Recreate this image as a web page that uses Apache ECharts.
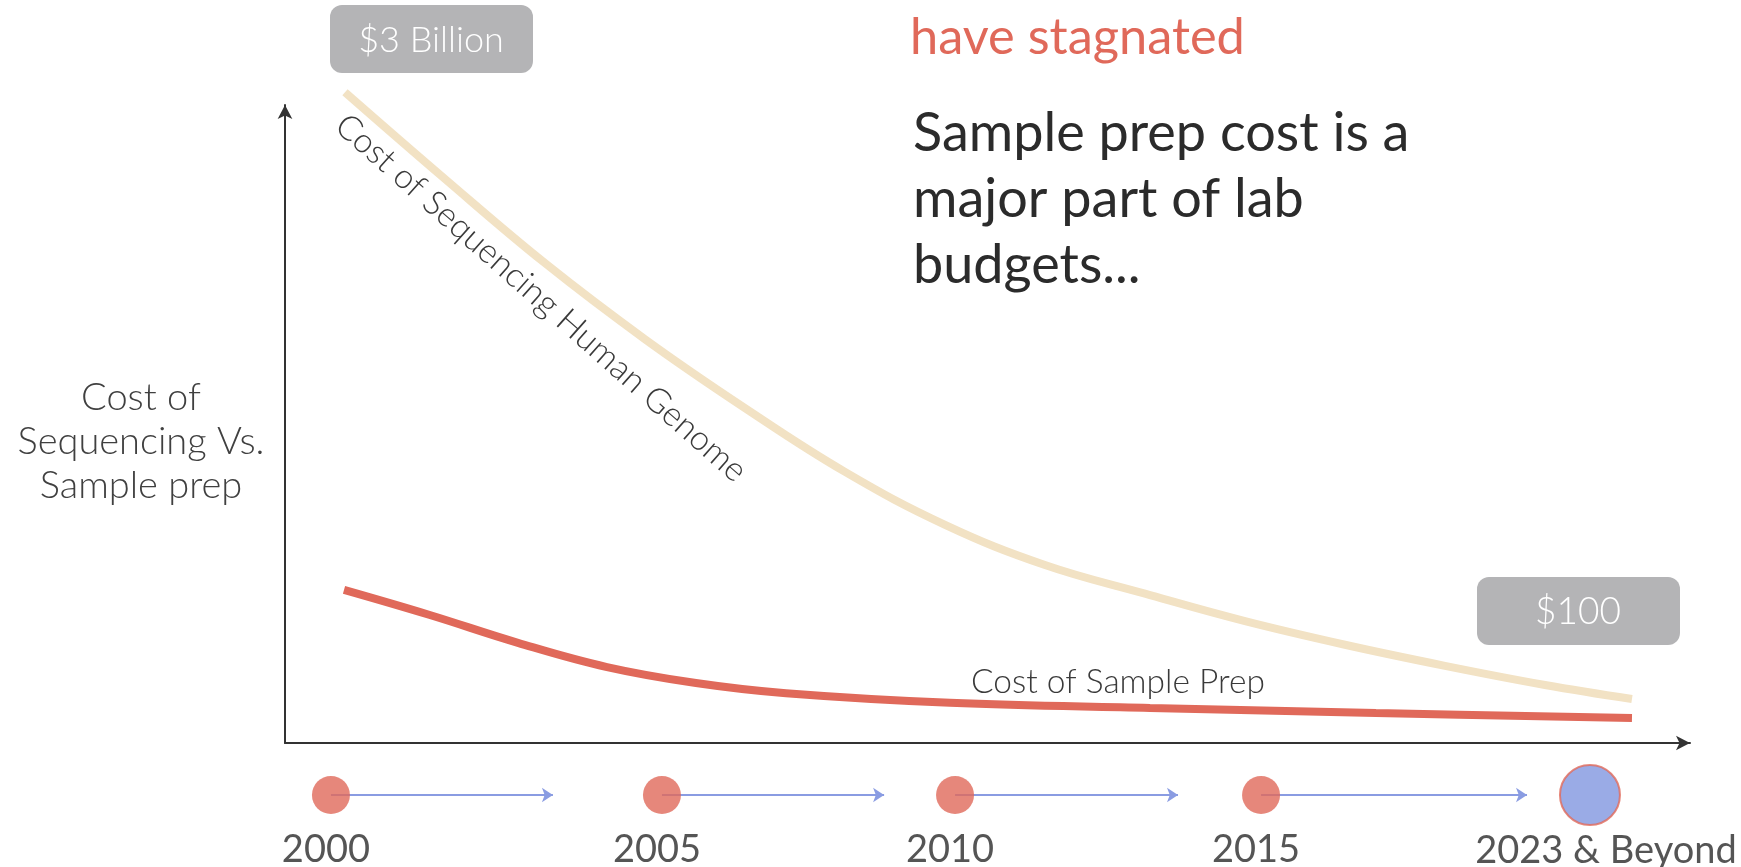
<!DOCTYPE html>
<html>
<head>
<meta charset="utf-8">
<script src="https://cdn.jsdelivr.net/npm/echarts@6/dist/echarts.min.js"></script>
<style>
  html, body { margin: 0; padding: 0; background: #ffffff; }
  #chart { width: 1741px; height: 867px; }
</style>
</head>
<body>
<div id="chart"></div>
<script>
// Cost of sequencing a human genome (x: position along the time axis, y: relative cost)
const genomeX = [4.27, 11.39, 18.51, 25.62, 32.74, 39.86, 46.98, 54.09, 61.21, 68.33, 75.44, 82.56, 89.68, 95.87];
const genomeY = [102.0, 88.4, 75.2, 63.3, 52.5, 42.5, 34.2, 27.9, 23.4, 19.1, 15.4, 12.1, 9.1, 6.9];

// Cost of sample prep
const prepX = [4.2, 10.25, 16.58, 22.92, 29.25, 35.66, 47.33, 61.57, 77.65, 95.87];
const prepY = [24.0, 20.1, 15.7, 11.9, 9.4, 7.8, 6.3, 5.5, 4.7, 3.9];

// Timeline milestones below the chart
const milestoneLabels = ['2000', '2005', '2010', '2015', '2023 & Beyond'];
const milestoneX = [3.27, 26.83, 47.69, 69.47, 92.88];
const arrowEndX = [19.07, 42.64, 63.56, 88.40];

const costLabels = ['$3 Billion', '$100'];

const FONT = 'Lato, "Open Sans", sans-serif';
const BEIGE = '#f2e2c4';
const RED = '#e0695a';
const BLUE = '#8a9ce2';
const GREY = '#b4b4b6';

const zip = (xs, ys) => xs.map((x, i) => [x, ys[i]]);

const chart = echarts.init(document.getElementById('chart'));

const hiddenAxis = {
  type: 'value', min: 0, max: 100,
  axisLine: { show: false }, axisTick: { show: false },
  axisLabel: { show: false }, splitLine: { show: false }
};

const arrowAxisLine = {
  show: true,
  symbol: ['none', 'arrow'],
  symbolSize: [11, 14],
  lineStyle: { color: '#333333', width: 2 }
};

chart.setOption({
  backgroundColor: '#ffffff',
  animation: false,
  textStyle: { fontFamily: FONT },
  grid: [
    { left: 285, top: 105, width: 1405, height: 638 },
    { left: 285, top: 770, width: 1405, height: 50 }
  ],
  xAxis: [
    Object.assign({}, hiddenAxis, { gridIndex: 0, axisLine: arrowAxisLine }),
    Object.assign({}, hiddenAxis, { gridIndex: 1 })
  ],
  yAxis: [
    Object.assign({}, hiddenAxis, { gridIndex: 0, axisLine: arrowAxisLine }),
    Object.assign({}, hiddenAxis, { gridIndex: 1, min: -1, max: 1 })
  ],
  series: [
    {
      name: 'Cost of Sequencing Human Genome',
      type: 'line',
      xAxisIndex: 0, yAxisIndex: 0,
      data: zip(genomeX, genomeY),
      smooth: 0.4,
      showSymbol: false,
      clip: false,
      lineStyle: { color: BEIGE, width: 8, cap: 'butt' },
      z: 2
    },
    {
      name: 'Cost of Sample Prep',
      type: 'line',
      xAxisIndex: 0, yAxisIndex: 0,
      data: zip(prepX, prepY),
      smooth: 0.4,
      showSymbol: false,
      clip: false,
      lineStyle: { color: RED, width: 8, cap: 'butt' },
      z: 3
    },
    {
      type: 'lines',
      coordinateSystem: 'cartesian2d',
      xAxisIndex: 1, yAxisIndex: 1,
      symbol: ['none', 'arrow'],
      symbolSize: 11,
      lineStyle: { color: BLUE, width: 2, opacity: 1, curveness: 0 },
      data: arrowEndX.map((end, i) => ({ coords: [[milestoneX[i], 0], [end, 0]] })),
      z: 2
    },
    {
      type: 'scatter',
      xAxisIndex: 1, yAxisIndex: 1,
      z: 4,
      data: milestoneX.map((x, i) => {
        const last = i === milestoneX.length - 1;
        return {
          value: [x, 0],
          name: milestoneLabels[i],
          symbolSize: last ? 60 : 38,
          itemStyle: last
            ? { color: '#8196e0', borderColor: RED, borderWidth: 2 }
            : { color: RED },
          label: {
            show: true,
            position: 'bottom',
            distance: last ? 6 : 17,
            offset: last ? [16, 0] : [-5, 0],
            formatter: '{b}',
            color: '#2b2b2b',
            fontSize: 38,
            fontFamily: FONT
          }
        };
      })
    }
  ],
  graphic: [
    // Cost call-outs
    {
      type: 'group', x: 330, y: 5,
      children: [
        { type: 'rect', shape: { x: 0, y: 0, width: 203, height: 68, r: 12 }, style: { fill: GREY } },
        { type: 'text', x: 101, y: 35, style: { text: costLabels[0], fill: '#ffffff', font: '300 36px ' + FONT, align: 'center', verticalAlign: 'middle' } }
      ]
    },
    {
      type: 'group', x: 1477, y: 577,
      children: [
        { type: 'rect', shape: { x: 0, y: 0, width: 203, height: 68, r: 12 }, style: { fill: GREY } },
        { type: 'text', x: 101, y: 35, style: { text: costLabels[1], fill: '#ffffff', font: '300 37px ' + FONT, align: 'center', verticalAlign: 'middle' } }
      ]
    },
    // Curve captions
    {
      type: 'text', x: 541, y: 298, rotation: -41.5 * Math.PI / 180,
      style: { text: 'Cost of Sequencing Human Genome', fill: '#3a3a3a', font: '300 34px ' + FONT, align: 'center', verticalAlign: 'middle' }
    },
    {
      type: 'text', x: 971, y: 682,
      style: { text: 'Cost of Sample Prep', fill: '#3a3a3a', font: '300 33.5px ' + FONT, align: 'left', verticalAlign: 'middle' }
    },
    // Axis title
    {
      type: 'text', x: 141, y: 376,
      style: { text: 'Cost of\nSequencing Vs.\nSample prep', fill: '#404040', font: '300 38px ' + FONT, lineHeight: 44, align: 'center', verticalAlign: 'top' }
    },
    // Headline
    {
      type: 'text', x: 910, y: 38,
      style: { text: 'have stagnated', fill: RED, font: '50.5px ' + FONT, align: 'left', verticalAlign: 'middle' }
    },
    {
      type: 'text', x: 913, y: 101,
      style: { text: 'Sample prep cost is a\nmajor part of lab\nbudgets...', fill: '#2b2b2b', font: '54px ' + FONT, lineHeight: 66, align: 'left', verticalAlign: 'top' }
    }
  ]
});
</script>
</body>
</html>
